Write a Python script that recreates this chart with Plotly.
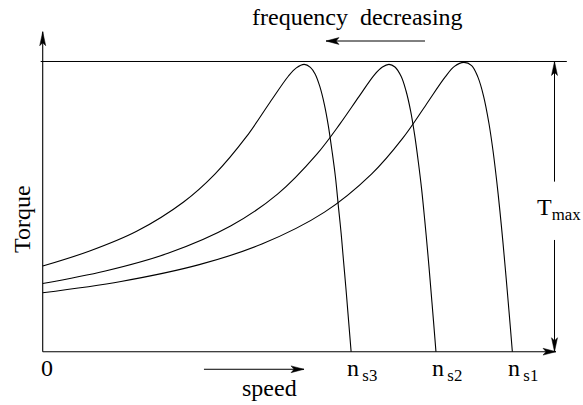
import plotly.graph_objects as go

# ---- data (speed in rpm-like units, torque in per-unit of Tmax)
speed_ns3 = [0, 150, 300, 450, 550, 650, 725, 785, 810, 835, 855, 870, 885, 900, 912, 925, 935, 945, 953, 960, 968, 975, 985]
torque_ns3 = [0.295, 0.347, 0.415, 0.516, 0.612, 0.740, 0.858, 0.950, 0.978, 0.990, 0.980, 0.957, 0.914, 0.850, 0.780, 0.684, 0.601, 0.494, 0.409, 0.322, 0.224, 0.132, 0.0]

speed_ns2 = [0, 200, 400, 600, 750, 875, 950, 1010, 1060, 1085, 1106, 1125, 1145, 1160, 1175, 1188, 1200, 1210, 1220, 1230, 1238, 1248, 1256]
torque_ns2 = [0.235, 0.278, 0.339, 0.433, 0.543, 0.680, 0.786, 0.879, 0.955, 0.981, 0.990, 0.981, 0.948, 0.900, 0.830, 0.746, 0.651, 0.562, 0.455, 0.338, 0.237, 0.107, 0.0]

speed_ns1 = [0, 250, 500, 700, 900, 1050, 1150, 1225, 1285, 1315, 1345, 1370, 1390, 1408, 1425, 1438, 1450, 1460, 1470, 1478, 1485, 1494, 1500]
torque_ns1 = [0.203, 0.242, 0.300, 0.371, 0.481, 0.612, 0.736, 0.852, 0.946, 0.983, 0.997, 0.986, 0.946, 0.881, 0.788, 0.694, 0.588, 0.487, 0.376, 0.280, 0.193, 0.078, 0.0]

sync_speeds = [985, 1256, 1500]
sync_labels = ["n<sub>\u2009s3</sub>", "n<sub>\u2009s2</sub>", "n<sub>\u2009s1</sub>"]
origin_label = "0"
t_max = 1.0
t_max_label = "T<sub>max</sub>"
x_label = "speed"
y_label = "Torque"
top_label = "frequency\u00a0 decreasing"

# ---- layout geometry
X_RANGE = [-136.4, 1725.6]
Y_RANGE = [-0.1837, 1.2119]
x_axis_end = 1639.4
y_axis_end = 1.1027
top_line = [-6.4, 1518]
tmax_x = 1634.6
tmax_gap = [0.385, 0.586]
tmax_tick = [1256, 1674]
FONT = "Liberation Serif, Times New Roman, serif"
BLACK = "black"

fig = go.Figure()
for sp, tq in [(speed_ns3, torque_ns3), (speed_ns2, torque_ns2), (speed_ns1, torque_ns1)]:
    fig.add_trace(go.Scatter(x=sp, y=tq, mode="lines",
                             line=dict(color=BLACK, width=1.1, shape="spline", smoothing=1.0),
                             hoverinfo="skip", showlegend=False))

shapes = []
def line(x0, y0, x1, y1, w=1.1):
    shapes.append(dict(type="line", xref="x", yref="y", x0=x0, y0=y0, x1=x1, y1=y1,
                       line=dict(color=BLACK, width=w)))

HEAD = {
    "right": "M0,0L-13,3.4L-10,0L-13,-3.4Z",
    "left": "M0,0L13,3.4L10,0L13,-3.4Z",
    "up": "M0,0L-3,-14L0,-11L3,-14Z",
    "down": "M0,0L-3,14L0,11L3,14Z",
}
def head(x, y, d):
    shapes.append(dict(type="path", xref="x", yref="y", xsizemode="pixel", ysizemode="pixel",
                       xanchor=x, yanchor=y, path=HEAD[d],
                       fillcolor=BLACK, line=dict(color=BLACK, width=0.5)))

# axes
line(0, 0, x_axis_end, 0)
head(x_axis_end, 0, "right")
line(0, 0, 0, y_axis_end)
head(0, y_axis_end, "up")
# Tmax level
line(top_line[0], t_max, top_line[1], t_max, 1)
line(tmax_tick[0], t_max, tmax_tick[1], t_max, 1)
line(tmax_x, t_max, tmax_x, tmax_gap[1], 1)
line(tmax_x, 0, tmax_x, tmax_gap[0], 1)
head(tmax_x, t_max, "up")
head(tmax_x, 0, "down")
# frequency decreasing arrow
line(1221, 1.0706, 904.8, 1.0706, 1)
head(904.8, 1.0706, "left")
# speed arrow
line(515, -0.0606, 834.6, -0.0606, 1)
head(834.6, -0.0606, "right")

ann = []
def text(t, x, y, xa="center", ya="middle", angle=0, xshift=0, yshift=0):
    ann.append(dict(text=t, x=x, y=y, xref="x", yref="y", showarrow=False,
                    xanchor=xa, yanchor=ya, textangle=angle, xshift=xshift, yshift=yshift,
                    font=dict(family=FONT, size=24, color=BLACK)))

text(top_label, 1005, 1.153)
text(x_label, 722.8, -0.125)
text(origin_label, 12.8, -0.0689, yshift=4)
text(y_label, -66.1, 0.457, angle=-90)
text(t_max_label, 1649, 0.49)
for s, lab in zip(sync_speeds, sync_labels):
    text(lab, s, -0.080, xa="left", xshift=-6, yshift=5)

fig.update_layout(
    width=583, height=405, margin=dict(l=0, r=0, t=0, b=0),
    paper_bgcolor="white", plot_bgcolor="white",
    xaxis=dict(range=X_RANGE, visible=False, fixedrange=True),
    yaxis=dict(range=Y_RANGE, visible=False, fixedrange=True),
    shapes=shapes, annotations=ann, showlegend=False,
)
fig.write_html("out.html", config={"displayModeBar": False},
               post_script="document.body.style.margin='0';")
